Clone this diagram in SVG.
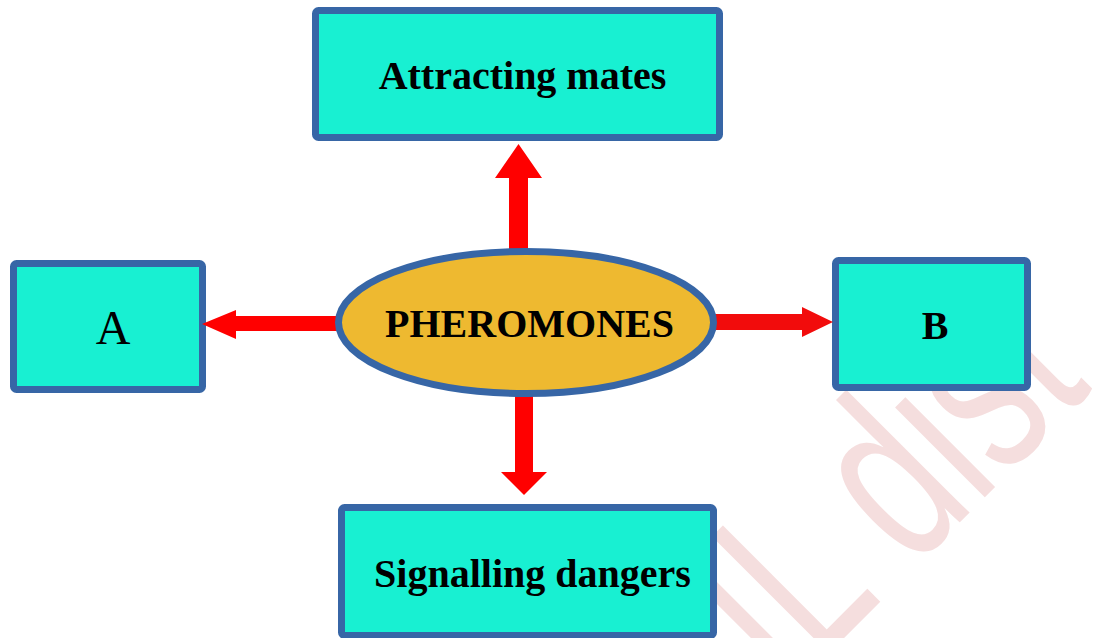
<svg xmlns="http://www.w3.org/2000/svg" width="1094" height="638" viewBox="0 0 1094 638">
  <style>
    .box { fill: #18f0d2; stroke: #3766a6; stroke-width: 7; }
    .lbl { font-family: "Liberation Serif", "Times New Roman", serif; font-weight: bold; font-size: 40px; fill: #000; text-anchor: middle; }
    .arrow { fill: #ff0000; }
    .wm { font-family: "Liberation Sans", Arial, sans-serif; font-size: 240px; fill: #f5dede; }
  </style>
  <rect width="1094" height="638" fill="#ffffff"/>
  <text class="wm" transform="translate(786.75,695.25) rotate(-45) scale(0.6875,1)">IL dist</text>

  <g id="node-top">
    <rect class="box" x="315.5" y="10.5" width="404" height="127" rx="3"/>
    <text class="lbl" x="522.5" y="89">Attracting mates</text>
  </g>
  <g id="node-a">
    <rect class="box" x="13.5" y="263.5" width="189" height="126" rx="3"/>
    <text class="lbl" x="113" y="344" style="font-weight:normal;font-size:48px">A</text>
  </g>
  <g id="node-b">
    <rect class="box" x="835.5" y="260.5" width="192" height="127" rx="3"/>
    <text class="lbl" x="935" y="339">B</text>
  </g>
  <g id="node-bottom">
    <rect class="box" x="341.5" y="507.5" width="372" height="128" rx="3"/>
    <text class="lbl" x="532.5" y="587">Signalling dangers</text>
  </g>

  <g id="connectors">
    <polygon class="arrow" points="509,260 509,178 495,178 518.5,144 542,178 528,178 528,260"/>
    <polygon class="arrow" points="345,316 236,316 236,310 202,324 236,339 236,331 345,331"/>
    <polygon class="arrow" points="705,314 802,314 802,307 833,322 802,337 802,330 705,330" style="fill:#f20c0c"/>
    <polygon class="arrow" points="515,385 515,472 501,472 524,495 547,472 533,472 533,385"/>
  </g>

  <g id="node-center">
    <ellipse cx="526" cy="322.5" rx="187.5" ry="71" fill="#eeb930" stroke="#3766a6" stroke-width="7"/>
    <text class="lbl" x="529.5" y="337">PHEROMONES</text>
  </g>
</svg>
